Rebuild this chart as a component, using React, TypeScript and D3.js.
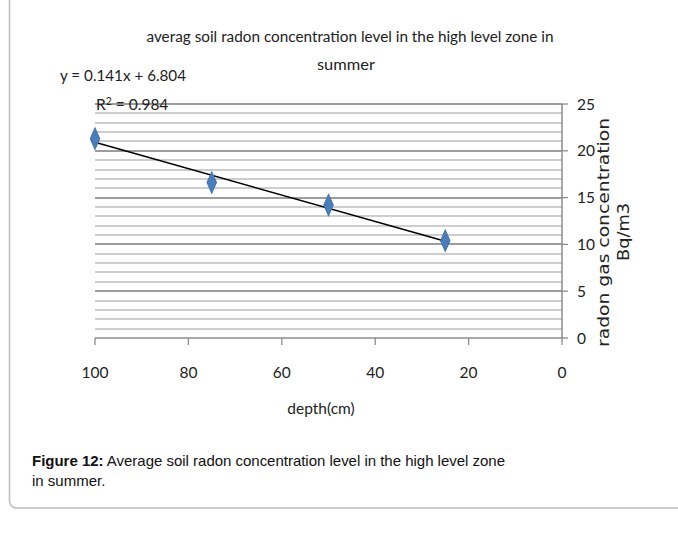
import React, { useEffect } from "react";
import * as d3 from "d3";

const depths = [100, 75, 50, 25];
const radon = [21.3, 16.6, 14.2, 10.4];
const xTicks = [100, 80, 60, 40, 20, 0];
const yTicks = [0, 5, 10, 15, 20, 25];
const minorY = d3.range(0, 26, 1);
const trendSlope = 0.141;
const trendIntercept = 6.804;
const titleLines = ["averag soil radon concentration level in the high level zone in", "summer"];
const eqText = "y = 0.141x + 6.804";
const r2Value = "0.984";
const xTitle = "depth(cm)";
const yTitleLines = ["radon gas concentration", "Bq/m3"];
const captionBold = "Figure 12:";
const captionRest = " Average soil radon concentration level in the high level zone";
const captionLine2 = "in summer.";

const W = 678;
const H = 546;
const plot = { left: 95, right: 562, top: 104, bottom: 338 };
const FONT = "Lato, 'Liberation Sans', sans-serif";
const WIDE = "'DejaVu Sans', Verdana, sans-serif";

export default function App() {
  useEffect(() => {
    document.body.style.margin = "0";
  }, []);

  const x = d3.scaleLinear().domain([100, 0]).range([plot.left, plot.right]);
  const y = d3.scaleLinear().domain([0, 25]).range([plot.bottom, plot.top]);

  const diamond = d3.symbol().type(d3.symbolDiamond).size(80)();
  const trendX = [d3.max(depths) as number, d3.min(depths) as number];
  const trendLine = d3
    .line<number>()
    .x((d) => x(d))
    .y((d) => y(trendSlope * d + trendIntercept))(trendX);

  return (
    <svg width={W} height={H} style={{ position: "absolute", left: 0, top: 0, background: "#fff" }}>
      <rect x={9.5} y={-8} width={720} height={516} rx={7} fill="#fff" stroke="#bdbdbd" strokeWidth={1.5} />

      {/* minor grid */}
      {minorY.filter((v) => v % 5 !== 0).map((v) => (
        <line key={"m" + v} x1={plot.left} x2={plot.right} y1={Math.round(y(v))} y2={Math.round(y(v))} stroke="#cdcdcd" strokeWidth={2} />
      ))}
      {/* major grid */}
      {yTicks.filter((v) => v !== 0).map((v) => (
        <line key={"M" + v} x1={plot.left} x2={plot.right} y1={Math.round(y(v))} y2={Math.round(y(v))} stroke="#9c9c9c" strokeWidth={2} />
      ))}

      {/* x axis */}
      <line x1={plot.left} x2={plot.right} y1={plot.bottom} y2={plot.bottom} stroke="#8c8c8c" strokeWidth={1.5} />
      {xTicks.map((t) => (
        <g key={"xt" + t}>
          <line x1={x(t)} x2={x(t)} y1={plot.bottom} y2={plot.bottom + 7} stroke="#8c8c8c" strokeWidth={1.3} />
          <text x={x(t)} y={378} textAnchor="middle" fontFamily={FONT} fontSize={15.5} fill="#222">
            {t}
          </text>
        </g>
      ))}

      {/* y axis (right) */}
      <line x1={plot.right} x2={plot.right} y1={plot.top} y2={plot.bottom} stroke="#8c8c8c" strokeWidth={1.5} />
      {yTicks.map((t) => (
        <g key={"yt" + t}>
          <line x1={plot.right} x2={plot.right + 6} y1={y(t)} y2={y(t)} stroke="#8c8c8c" strokeWidth={1.3} />
          <text x={577} y={y(t) + 5.5} fontFamily={FONT} fontSize={15.5} fill="#222">
            {t}
          </text>
        </g>
      ))}

      {/* trendline */}
      <path d={trendLine || ""} fill="none" stroke="#000" strokeWidth={1.5} />

      {/* points */}
      {depths.map((d, i) => (
        <path
          key={"p" + i}
          d={diamond || ""}
          transform={`translate(${x(d)},${y(radon[i])}) scale(1,1.3)`}
          fill="#4a7ebb"
          stroke="#3f70aa"
          strokeWidth={0.8}
        />
      ))}

      {/* title */}
      <text x={350} y={42} textAnchor="middle" fontFamily={FONT} fontSize={15.5} fill="#222" textLength={407} lengthAdjust="spacingAndGlyphs">
        {titleLines[0]}
      </text>
      <text x={346} y={70} textAnchor="middle" fontFamily={FONT} fontSize={15.5} fill="#222" textLength={58} lengthAdjust="spacingAndGlyphs">
        {titleLines[1]}
      </text>

      {/* equation */}
      <text x={60} y={81} fontFamily={FONT} fontSize={15.5} fill="#222" textLength={126} lengthAdjust="spacingAndGlyphs">
        {eqText}
      </text>
      <text x={96} y={110} fontFamily={FONT} fontSize={15.5} fill="#222">
        R<tspan dy={-5} fontSize={10.5}>2</tspan>
        <tspan dy={5}>{" = " + r2Value}</tspan>
      </text>

      {/* axis titles */}
      <text x={321} y={414} textAnchor="middle" fontFamily={FONT} fontSize={15.5} fill="#222">
        {xTitle}
      </text>
      <text
        transform={`translate(609,232.5) rotate(-90)`}
        textAnchor="middle"
        fontFamily={WIDE}
        fontSize={16}
        fill="#222"
        textLength={229}
        lengthAdjust="spacingAndGlyphs"
      >
        {yTitleLines[0]}
      </text>
      <text
        transform={`translate(629,232) rotate(-90)`}
        textAnchor="middle"
        fontFamily={WIDE}
        fontSize={16}
        fill="#222"
        textLength={58}
        lengthAdjust="spacingAndGlyphs"
      >
        {yTitleLines[1]}
      </text>

      {/* caption */}
      <text x={32} y={466} fontFamily="'Liberation Sans', Arial, sans-serif" fontSize={15} fill="#111" textLength={473} lengthAdjust="spacing">
        <tspan fontWeight="bold">{captionBold}</tspan>
        <tspan>{captionRest}</tspan>
      </text>
      <text x={32} y={486} fontFamily="'Liberation Sans', Arial, sans-serif" fontSize={15} fill="#111">
        {captionLine2}
      </text>
    </svg>
  );
}
